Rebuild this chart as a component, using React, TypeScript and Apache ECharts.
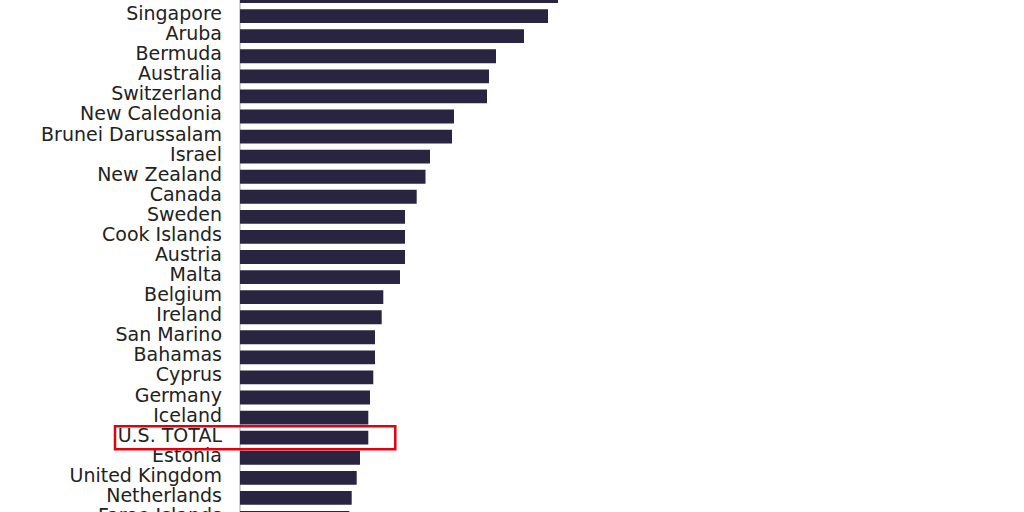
import React, { useRef, useEffect } from 'react';
import * as echarts from 'echarts';

// categories, top to bottom
const countries = [
  'Saudi Arabia', 'Singapore', 'Aruba', 'Bermuda', 'Australia', 'Switzerland',
  'New Caledonia', 'Brunei Darussalam', 'Israel', 'New Zealand', 'Canada',
  'Sweden', 'Cook Islands', 'Austria', 'Malta', 'Belgium', 'Ireland',
  'San Marino', 'Bahamas', 'Cyprus', 'Germany', 'Iceland', 'U.S. TOTAL',
  'Estonia', 'United Kingdom', 'Netherlands', 'Faroe Islands'
];

const values = [
  31.8, 30.8, 28.4, 25.6, 24.9, 24.7,
  21.4, 21.2, 19.0, 18.55, 17.67,
  16.5, 16.5, 16.5, 16.0, 14.33, 14.17,
  13.5, 13.5, 13.33, 13.0, 12.83, 12.83,
  12.0, 11.67, 11.17, 10.93
];

const highlight = 'U.S. TOTAL';

const App: React.FC = () => {
  const chartRef = useRef<HTMLDivElement>(null);

  useEffect(() => {
    if (!chartRef.current) return;
    const chart = echarts.init(chartRef.current, undefined, { renderer: 'svg' });

    chart.setOption({
      animation: false,
      grid: { left: 240, right: 84, top: 0, bottom: 0, containLabel: false, outerBoundsMode: 'none' },
      xAxis: {
        type: 'value',
        min: 0,
        max: 70,
        show: false
      },
      yAxis: {
        type: 'category',
        data: countries,
        inverse: true,
        axisLine: { show: true, lineStyle: { color: '#d2d2d2', width: 2 } },
        axisTick: { show: false },
        splitLine: { show: false },
        axisLabel: {
          interval: 0,
          margin: 18,
          formatter: (v: string) => `{t|${v}}`,
          rich: {
            t: {
              fontFamily: 'DejaVu Sans',
              fontSize: 19,
              color: '#222',
              padding: [0, 0, 6, 0]
            }
          }
        }
      },
      series: [{
        type: 'bar',
        data: values,
        barCategoryGap: '31%',
        itemStyle: { color: '#29243f' }
      }]
    });

    // red box round the highlighted row
    const idx = countries.indexOf(highlight);
    const cy = chart.convertToPixel({ yAxisIndex: 0 }, idx) as number;
    const xEnd = chart.convertToPixel({ xAxisIndex: 0 }, values[idx]) as number;
    chart.setOption({
      graphic: [{
        type: 'rect',
        z: 100,
        shape: { x: 115, y: cy - 11.5, width: xEnd + 27 - 115, height: 23 },
        style: { fill: 'none', stroke: '#e3000f', lineWidth: 2.5 }
      }]
    });

    return () => {
      chart.dispose();
    };
  }, []);

  return (
    <div style={{ position: 'fixed', left: 0, top: 0, width: 1024, height: 512, overflow: 'hidden', background: '#fff' }}>
      <div ref={chartRef} style={{ position: 'absolute', left: 0, top: -14, width: 1024, height: 542 }} />
    </div>
  );
};

export default App;
